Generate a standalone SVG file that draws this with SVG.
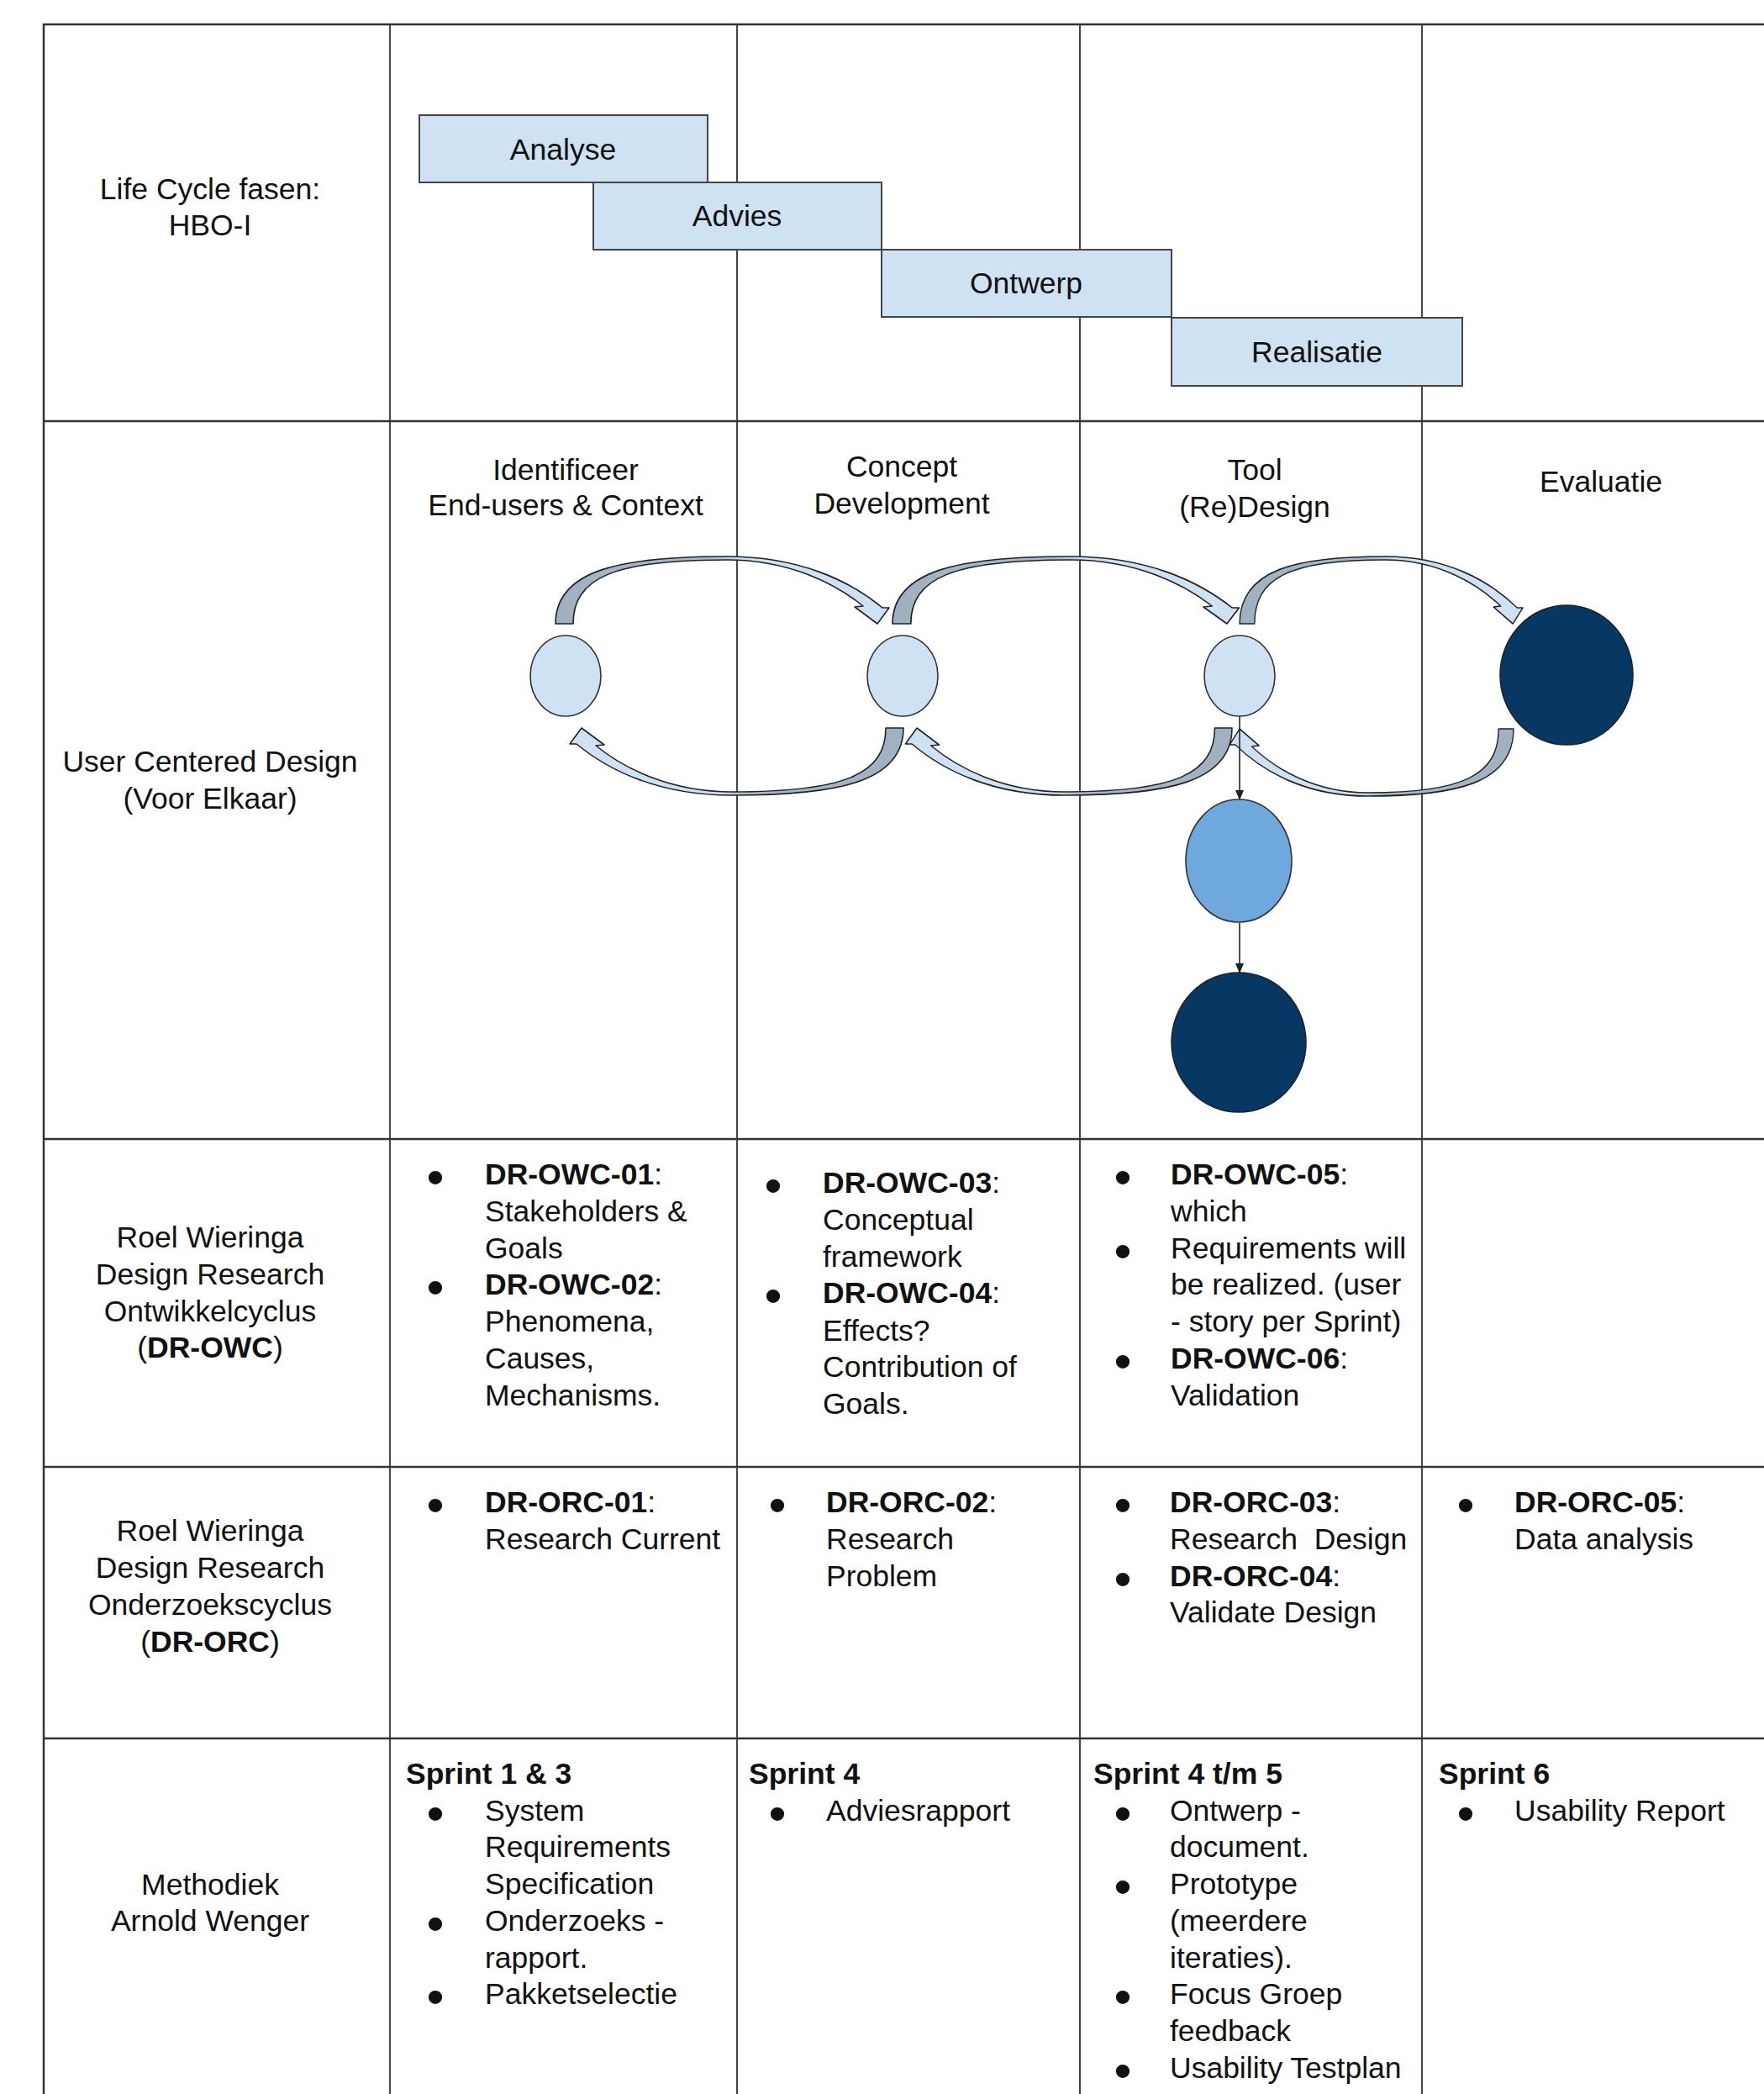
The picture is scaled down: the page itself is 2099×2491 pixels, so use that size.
<svg xmlns="http://www.w3.org/2000/svg" xmlns:xlink="http://www.w3.org/1999/xlink" width="2099" height="2491" viewBox="0 0 2099 2491">
<style>
text{font-family:"Liberation Sans",Arial,sans-serif;font-size:35.5px;fill:#111}
.c{text-anchor:middle}
.b{font-weight:bold}
.bul{font-size:60px;text-anchor:middle}
.hl{stroke:#333;stroke-width:2.5}
.vl{stroke:#333;stroke-width:1.8}
.phase{fill:#cfe2f3;stroke:#444;stroke-width:2}
.arc{fill:url(#arcGrad);stroke:#222;stroke-width:1.6;stroke-linejoin:round;vector-effect:non-scaling-stroke}
.light{fill:#cfe2f3;stroke:#333;stroke-width:1.6}
.mid{fill:#6fa8dc;stroke:#333;stroke-width:1.6}
.dark{fill:#073763;stroke:#222;stroke-width:1.6}
.thin{stroke:#222;stroke-width:1.6;fill:none}
</style>
<defs>
<linearGradient id="arcGrad" x1="0" y1="0" x2="1" y2="0">
<stop offset="0" stop-color="#9fb0c1"/>
<stop offset="0.46" stop-color="#a9bacb"/>
<stop offset="0.56" stop-color="#cfe2f3"/>
<stop offset="1" stop-color="#cfe2f3"/>
</linearGradient>
<path id="curvedArrow" d="M0,0 C0,-65 80,-80 204,-80 C289,-80 349,-52 389,-19 L397,-19 L383,0 L356,-20 L366,-21 C334,-47 279,-76 204,-76 C70,-76 21,-55 21,0 Z"/>
<marker id="ah" markerUnits="userSpaceOnUse" markerWidth="12" markerHeight="14" refX="11" refY="5" orient="auto" viewBox="0 0 12 10">
<path d="M0,0 L12,5 L0,10 Z" fill="#222"/>
</marker>
</defs>
<rect x="0" y="0" width="2099" height="2491" fill="#fff"/>

<g id="table">
<line class="hl" x1="51" y1="29" x2="2099" y2="29"/>
<line class="hl" x1="51" y1="501" x2="2099" y2="501"/>
<line class="hl" x1="51" y1="1355" x2="2099" y2="1355"/>
<line class="hl" x1="51" y1="1745" x2="2099" y2="1745"/>
<line class="hl" x1="51" y1="2068" x2="2099" y2="2068"/>
<line class="hl" x1="52" y1="28" x2="52" y2="2491"/>
<line class="vl" x1="464" y1="29" x2="464" y2="2491"/>
<line class="vl" x1="877" y1="29" x2="877" y2="2491"/>
<line class="vl" x1="1285" y1="29" x2="1285" y2="2491"/>
<line class="vl" x1="1692" y1="29" x2="1692" y2="2491"/>
</g>

<g id="row-labels">
<text class="c" x="250" y="237">Life Cycle fasen:</text>
<text class="c" x="250" y="280">HBO-I</text>
<text class="c" x="250" y="918">User Centered Design</text>
<text class="c" x="250" y="962">(Voor Elkaar)</text>
<text class="c" x="250" y="1484">Roel Wieringa</text>
<text class="c" x="250" y="1528">Design Research</text>
<text class="c" x="250" y="1572">Ontwikkelcyclus</text>
<text class="c" x="250" y="1615">(<tspan class="b">DR-OWC</tspan>)</text>
<text class="c" x="250" y="1833">Roel Wieringa</text>
<text class="c" x="250" y="1877">Design Research</text>
<text class="c" x="250" y="1921">Onderzoekscyclus</text>
<text class="c" x="250" y="1965">(<tspan class="b">DR-ORC</tspan>)</text>
<text class="c" x="250" y="2254">Methodiek</text>
<text class="c" x="250" y="2297">Arnold Wenger</text>
</g>

<g id="phase-analyse">
<rect class="phase" x="499" y="137" width="343" height="80"/>
<text class="c" x="670" y="190">Analyse</text>
</g>
<g id="phase-advies">
<rect class="phase" x="706" y="217" width="343" height="80"/>
<text class="c" x="877" y="269">Advies</text>
</g>
<g id="phase-ontwerp">
<rect class="phase" x="1049" y="297" width="345" height="80"/>
<text class="c" x="1221" y="349">Ontwerp</text>
</g>
<g id="phase-realisatie">
<rect class="phase" x="1394" y="378" width="346" height="81"/>
<text class="c" x="1567" y="431">Realisatie</text>
</g>

<g id="ucd-headers">
<text class="c" x="673" y="571">Identificeer</text>
<text class="c" x="673" y="613">End-users &amp; Context</text>
<text class="c" x="1073" y="567">Concept</text>
<text class="c" x="1073" y="611">Development</text>
<text class="c" x="1493" y="571">Tool</text>
<text class="c" x="1493" y="615">(Re)Design</text>
<text class="c" x="1905" y="585">Evaluatie</text>
</g>

<g id="connectors">
<use xlink:href="#curvedArrow" class="arc" transform="translate(661,742)"/>
<use xlink:href="#curvedArrow" class="arc" transform="translate(1062,742) scale(1.039,1)"/>
<use xlink:href="#curvedArrow" class="arc" transform="translate(1475,742) scale(0.849,1)"/>
<use xlink:href="#curvedArrow" class="arc" transform="translate(1075,866) scale(-1,-1)"/>
<use xlink:href="#curvedArrow" class="arc" transform="translate(1466,866) scale(-0.979,-1)"/>
<use xlink:href="#curvedArrow" class="arc" transform="translate(1801,867) scale(-0.851,-1)"/>
<line class="thin" x1="1475" y1="852" x2="1475" y2="951" marker-end="url(#ah)"/>
<line class="thin" x1="1475" y1="1098" x2="1475" y2="1157" marker-end="url(#ah)"/>
</g>

<g id="node-identificeer"><ellipse class="light" cx="673" cy="804" rx="42" ry="48"/></g>
<g id="node-concept"><ellipse class="light" cx="1074" cy="804" rx="42" ry="48"/></g>
<g id="node-tool"><ellipse class="light" cx="1475" cy="804" rx="42" ry="48"/></g>
<g id="node-evaluatie"><ellipse class="dark" cx="1864" cy="803" rx="79" ry="83"/></g>
<g id="node-prototype"><ellipse class="mid" cx="1474" cy="1024" rx="63" ry="73"/></g>
<g id="node-release"><ellipse class="dark" cx="1474" cy="1240" rx="80" ry="83"/></g>

<g id="owc-col1">
<text class="bul" x="518" y="1421">•</text>
<text x="577" y="1409"><tspan class="b">DR-OWC-01</tspan>:</text>
<text x="577" y="1453">Stakeholders &amp;</text>
<text x="577" y="1497">Goals</text>
<text class="bul" x="518" y="1552">•</text>
<text x="577" y="1540"><tspan class="b">DR-OWC-02</tspan>:</text>
<text x="577" y="1584">Phenomena,</text>
<text x="577" y="1628">Causes,</text>
<text x="577" y="1672">Mechanisms.</text>
</g>
<g id="owc-col2">
<text class="bul" x="920" y="1431">•</text>
<text x="979" y="1419"><tspan class="b">DR-OWC-03</tspan>:</text>
<text x="979" y="1463">Conceptual</text>
<text x="979" y="1507">framework</text>
<text class="bul" x="920" y="1562">•</text>
<text x="979" y="1550"><tspan class="b">DR-OWC-04</tspan>:</text>
<text x="979" y="1595">Effects?</text>
<text x="979" y="1638">Contribution of</text>
<text x="979" y="1682">Goals.</text>
</g>
<g id="owc-col3">
<text class="bul" x="1336" y="1421">•</text>
<text x="1393" y="1409"><tspan class="b">DR-OWC-05</tspan>:</text>
<text x="1393" y="1453">which</text>
<text class="bul" x="1336" y="1509">•</text>
<text x="1393" y="1497">Requirements will</text>
<text x="1393" y="1540">be realized. (user</text>
<text x="1393" y="1584">- story per Sprint)</text>
<text class="bul" x="1336" y="1640">•</text>
<text x="1393" y="1628"><tspan class="b">DR-OWC-06</tspan>:</text>
<text x="1393" y="1672">Validation</text>
</g>

<g id="orc-col1">
<text class="bul" x="518" y="1811">•</text>
<text x="577" y="1799"><tspan class="b">DR-ORC-01</tspan>:</text>
<text x="577" y="1843">Research Current</text>
</g>
<g id="orc-col2">
<text class="bul" x="925" y="1811">•</text>
<text x="983" y="1799"><tspan class="b">DR-ORC-02</tspan>:</text>
<text x="983" y="1843">Research</text>
<text x="983" y="1887">Problem</text>
</g>
<g id="orc-col3">
<text class="bul" x="1336" y="1811">•</text>
<text x="1392" y="1799"><tspan class="b">DR-ORC-03</tspan>:</text>
<text x="1392" y="1843" xml:space="preserve">Research  Design</text>
<text class="bul" x="1336" y="1899">•</text>
<text x="1392" y="1887"><tspan class="b">DR-ORC-04</tspan>:</text>
<text x="1392" y="1930">Validate Design</text>
</g>
<g id="orc-col4">
<text class="bul" x="1744" y="1811">•</text>
<text x="1802" y="1799"><tspan class="b">DR-ORC-05</tspan>:</text>
<text x="1802" y="1843">Data analysis</text>
</g>

<g id="sprint-col1">
<text class="b" x="483" y="2122">Sprint 1 &amp; 3</text>
<text class="bul" x="518" y="2178">•</text>
<text x="577" y="2166">System</text>
<text x="577" y="2209">Requirements</text>
<text x="577" y="2253">Specification</text>
<text class="bul" x="518" y="2309">•</text>
<text x="577" y="2297">Onderzoeks -</text>
<text x="577" y="2341">rapport.</text>
<text class="bul" x="518" y="2396">•</text>
<text x="577" y="2384">Pakketselectie</text>
</g>
<g id="sprint-col2">
<text class="b" x="891" y="2122">Sprint 4</text>
<text class="bul" x="925" y="2178">•</text>
<text x="983" y="2166">Adviesrapport</text>
</g>
<g id="sprint-col3">
<text class="b" x="1301" y="2122">Sprint 4 t/m 5</text>
<text class="bul" x="1336" y="2178">•</text>
<text x="1392" y="2166">Ontwerp -</text>
<text x="1392" y="2209">document.</text>
<text class="bul" x="1336" y="2265">•</text>
<text x="1392" y="2253">Prototype</text>
<text x="1392" y="2297">(meerdere</text>
<text x="1392" y="2341">iteraties).</text>
<text class="bul" x="1336" y="2396">•</text>
<text x="1392" y="2384">Focus Groep</text>
<text x="1392" y="2428">feedback</text>
<text class="bul" x="1336" y="2484">•</text>
<text x="1392" y="2472">Usability Testplan</text>
</g>
<g id="sprint-col4">
<text class="b" x="1712" y="2122">Sprint 6</text>
<text class="bul" x="1744" y="2178">•</text>
<text x="1802" y="2166">Usability Report</text>
</g>
</svg>
